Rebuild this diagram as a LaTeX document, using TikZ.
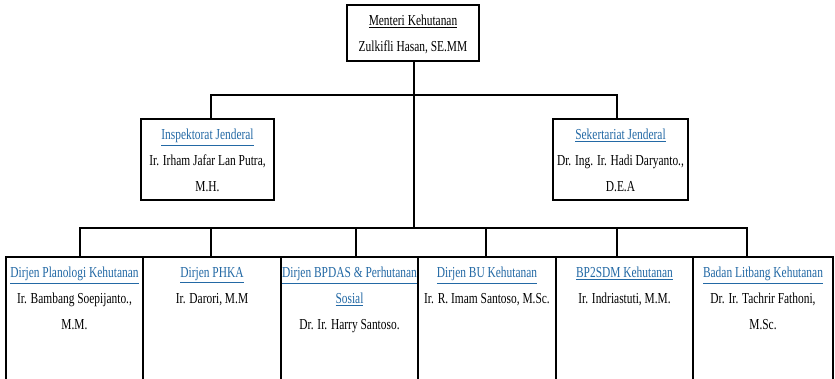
\documentclass[tikz,border=0pt]{standalone}
\usepackage{fontspec}
\setmainfont{Liberation Serif}[FakeStretch=0.75]
\usetikzlibrary{positioning}
\definecolor{LinkBlue}{RGB}{35,105,165}
\newcommand{\lnk}[1]{\textcolor{LinkBlue}{\underline{#1}}}
\newcommand{\px}{0.03cm}
\tikzset{
  post/.style={draw,line width=1.5pt,fill=white,inner sep=0pt},
  isi/.style={align=center,inner sep=0pt,font=\fontsize{13}{22}\selectfont},
  garis/.style={line width=1.5pt},
}

\begin{document}
\begin{tikzpicture}[x=\px,y=-\px]
  \useasboundingbox (0,0) rectangle (835,378);
  \clip (0,0) rectangle (835,378);
  % kotak
  \node[post,minimum width=132*\px,minimum height=56*\px] (menteri) at (413,33) {};
  \node[post,minimum width=133*\px,minimum height=81*\px] (insp) at (207.5,159.5) {};
  \node[post,minimum width=135*\px,minimum height=81*\px] (sekjen) at (620.5,159.5) {};
  \node[post,minimum width=137*\px,minimum height=163*\px] (b1) at (74.5,338.5) {};
  \node[post,minimum width=138*\px,minimum height=163*\px] (b2) at (212,338.5) {};
  \node[post,minimum width=137*\px,minimum height=163*\px] (b3) at (349.5,338.5) {};
  \node[post,minimum width=138*\px,minimum height=163*\px] (b4) at (487,338.5) {};
  \node[post,minimum width=137*\px,minimum height=163*\px] (b5) at (624.5,338.5) {};
  \node[post,minimum width=140*\px,minimum height=163*\px] (b6) at (763,338.5) {};
  % isi kotak
  \node[isi,below=11*\px of menteri.north] {\underline{Menteri Kehutanan}\\Zulkifli Hasan, SE.MM};
  \node[isi,below=11*\px of insp.north] {\lnk{Inspektorat Jenderal}\\Ir. Irham Jafar Lan Putra,\\M.H.};
  \node[isi,below=11*\px of sekjen.north] {\lnk{Sekertariat Jenderal}\\Dr. Ing. Ir. Hadi Daryanto.,\\D.E.A};
  \node[isi,below=11*\px of b1.north] {\lnk{Dirjen Planologi Kehutanan}\\Ir. Bambang Soepijanto.,\\M.M.};
  \node[isi,below=11*\px of b2.north] {\lnk{Dirjen PHKA}\\Ir. Darori, M.M};
  \node[isi,below=11*\px of b3.north] {\lnk{Dirjen BPDAS \& Perhutanan}\\\lnk{Sosial}\\Dr. Ir. Harry Santoso.};
  \node[isi,below=11*\px of b4.north] {\lnk{Dirjen BU Kehutanan}\\Ir. R. Imam Santoso, M.Sc.};
  \node[isi,below=11*\px of b5.north] {\lnk{BP2SDM Kehutanan}\\Ir. Indriastuti, M.M.};
  \node[isi,below=11*\px of b6.north] {\lnk{Badan Litbang Kehutanan}\\Dr. Ir. Tachrir Fathoni,\\M.Sc.};
  % simpul garis
  \coordinate (simpul1) at (414,95);
  \coordinate (simpul2) at (414,228);
  \coordinate (ujungA) at (211,95);
  \coordinate (ujungB) at (617,95);
  \coordinate (c1) at (80,228);
  \coordinate (c2) at (211,228);
  \coordinate (c3) at (356,228);
  \coordinate (c4) at (486,228);
  \coordinate (c5) at (617,228);
  \coordinate (c6) at (747,228);
  % garis
  \draw[garis] (simpul1 |- menteri.south) -- (simpul2);
  \draw[garis] (ujungA |- insp.north) -- (ujungA) -- (ujungB) -- (ujungB |- sekjen.north);
  \draw[garis] (c1 |- b1.north) -- (c1) -- (c6) -- (c6 |- b6.north);
  \foreach \i in {2,...,5}
    \draw[garis] (c\i) -- (c\i |- b\i.north);
\end{tikzpicture}
\end{document}
